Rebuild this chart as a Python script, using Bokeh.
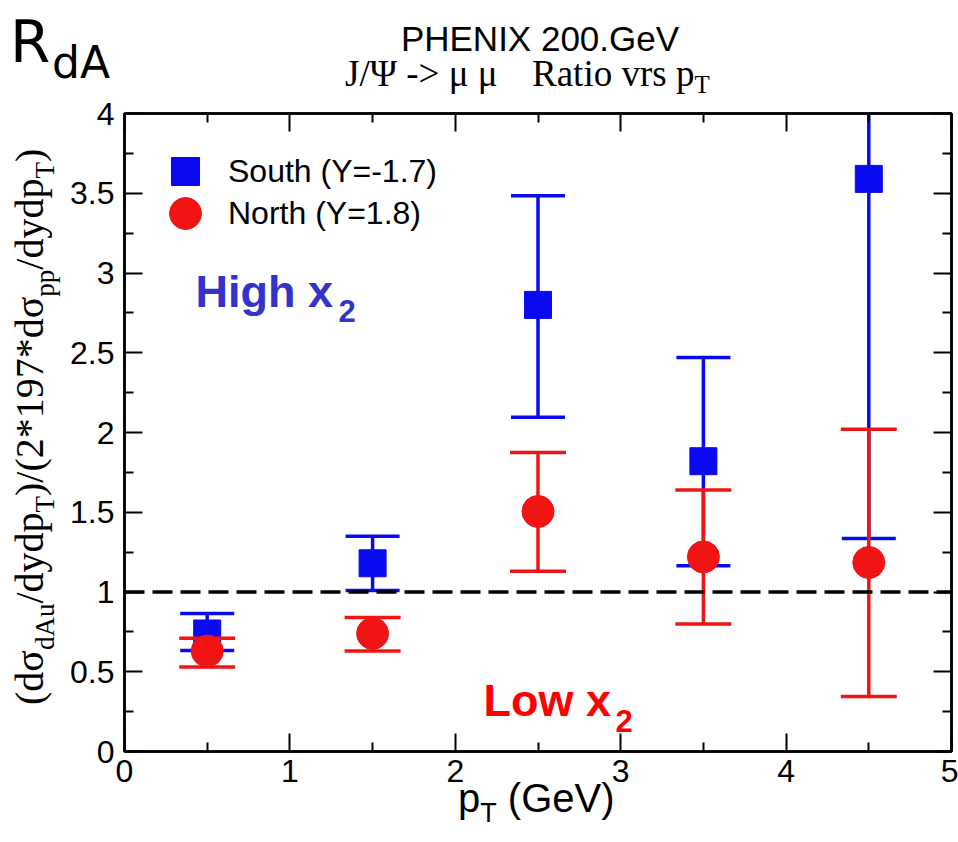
from bokeh.plotting import figure
from bokeh.models import (Range1d, LinearAxis, FixedTicker, Span, Label,
                          Legend, LegendItem, ColumnDataSource, GridBox, Div)
from bokeh.embed import file_html
from bokeh.resources import INLINE

# ---------------- data ----------------
pt = [0.5, 1.5, 2.5, 3.5, 4.5]
south_ratio = [0.74, 1.18, 2.80, 1.82, 3.59]
south_upper = [0.865, 1.35, 3.485, 2.47, 5.85]
south_lower = [0.633, 1.01, 2.095, 1.165, 1.335]
north_ratio = [0.63, 0.74, 1.505, 1.22, 1.185]
north_upper = [0.71, 0.84, 1.875, 1.64, 2.02]
north_lower = [0.53, 0.63, 1.13, 0.80, 0.345]

x_major = [0, 1, 2, 3, 4, 5]
x_minor = [0.5, 1.5, 2.5, 3.5, 4.5]
x_labels = ["0", "1", "2", "3", "4", "5"]
y_major = [0, 0.5, 1, 1.5, 2, 2.5, 3, 3.5, 4]
y_minor = [0.25, 0.75, 1.25, 1.75, 2.25, 2.75, 3.25, 3.75]
y_labels = ["0", "0.5", "1", "1.5", "2", "2.5", "3", "3.5", "4"]

south_name = "South (Y=-1.7)"
north_name = "North (Y=1.8)"

BLUE = "#0A0AF0"
RED = "#F01414"
SANS = "Liberation Sans"
SERIF = "Liberation Serif"

# ---------------- page geometry ----------------
W, H = 958, 842
FL, FR, FT, FB = 124, 951, 113, 751   # page coords of the plot frame
X0, X1, Y0, Y1 = 0, 5, 0, 4

p = figure(width=W, height=H, x_range=Range1d(X0, X1), y_range=Range1d(Y0, Y1),
           output_backend="svg", toolbar_location=None, title=None,
           min_border_left=FL, min_border_right=W - FR,
           min_border_top=FT, min_border_bottom=H - FB)
p.xgrid.visible = False
p.ygrid.visible = False
p.outline_line_color = "black"
p.outline_line_width = 2.5
p.background_fill_color = "white"
p.border_fill_color = "white"


def dx(px):
    return X0 + (px - FL) / (FR - FL) * (X1 - X0)


def dy(py):
    return Y0 + (FB - py) / (FB - FT) * (Y1 - Y0)


xb = p.below[0]
yl = p.left[0]
xt = LinearAxis()
yr = LinearAxis()
p.add_layout(xt, "above")
p.add_layout(yr, "right")

for ax in (xb, xt):
    ax.ticker = FixedTicker(ticks=x_major, minor_ticks=x_minor)
for ax in (yl, yr):
    ax.ticker = FixedTicker(ticks=y_major, minor_ticks=y_minor)
xb.major_label_overrides = dict(zip(x_major, x_labels))
yl.major_label_overrides = dict(zip(y_major, y_labels))

for ax in (xb, xt, yl, yr):
    ax.axis_line_color = "black"
    ax.axis_line_width = 2.5
    ax.major_tick_in = 18
    ax.major_tick_out = 0
    ax.minor_tick_in = 9
    ax.minor_tick_out = 0
    ax.major_tick_line_color = "black"
    ax.minor_tick_line_color = "black"
    ax.major_tick_line_width = 2
    ax.minor_tick_line_width = 2
    ax.axis_label = None
for ax in (xb, yl):
    ax.major_label_text_font = SANS
    ax.major_label_text_font_size = "32px"
    ax.major_label_text_color = "black"
xb.major_label_standoff = 8
yl.major_label_standoff = 10
for ax in (xt, yr):
    ax.major_label_text_font_size = "1px"
    ax.major_label_text_color = None
    ax.major_label_standoff = 0

# reference line
p.add_layout(Span(location=1, dimension="width", line_color="black",
                  line_width=3.5, line_dash="20 8"))

# ---------------- data marks ----------------
s_src = ColumnDataSource(dict(x=pt, y=south_ratio, lo=south_lower, hi=south_upper))
n_src = ColumnDataSource(dict(x=pt, y=north_ratio, lo=north_lower, hi=north_upper))

p.segment("x", "lo", "x", "hi", source=s_src, line_color=BLUE, line_width=3.5)
p.scatter("x", "hi", source=s_src, marker="dash", size=54, line_color=BLUE, line_width=3.5)
p.scatter("x", "lo", source=s_src, marker="dash", size=54, line_color=BLUE, line_width=3.5)
sq = p.scatter("x", "y", source=s_src, marker="square", size=27,
               fill_color=BLUE, line_color=BLUE)

p.segment("x", "lo", "x", "hi", source=n_src, line_color=RED, line_width=3.5)
p.scatter("x", "hi", source=n_src, marker="dash", size=56, line_color=RED, line_width=3.5)
p.scatter("x", "lo", source=n_src, marker="dash", size=56, line_color=RED, line_width=3.5)
ci = p.scatter("x", "y", source=n_src, marker="circle", size=32,
               fill_color=RED, line_color=RED)


# ---------------- legend ----------------
def make_legend(name, rend, loc, box, standoff):
    return Legend(items=[LegendItem(label=name, renderers=[rend])], location=loc,
                  glyph_width=box, glyph_height=box, label_standoff=standoff,
                  padding=0, margin=0, spacing=0, border_line_alpha=0,
                  background_fill_alpha=0, label_text_font=SANS,
                  label_text_font_size="32px", label_text_color="black")


p.add_layout(make_legend(south_name, sq, (26, FB - 206), 70, 8))
p.add_layout(make_legend(north_name, ci, (21, FB - 253), 80, 3))

# ---------------- texts inside the frame ----------------
MID = 0.345   # distance from text middle to its baseline, in ems


def put_in(txt, px, base_py, size, color, style="bold"):
    p.add_layout(Label(x=dx(px), y=dy(base_py - MID * size), text=txt,
                       text_font=SANS, text_font_size=f"{size}px",
                       text_color=color, text_font_style=style,
                       text_align="left", text_baseline="middle"))


put_in("High x", 195, 307, 45, "#3333CC")
put_in("2", 338, 321, 31, "#3333CC")
put_in("Low x", 483, 716, 45, "#FF0000")
put_in("2", 615, 731, 31, "#FF0000")

# ---------------- texts outside the frame (HTML overlay) ----------------
ASC = 0.845   # baseline below the top of a line-height:1 box, in ems


def sub(t, size, drop):
    return (f"<span style=\"font-size:{size}px;vertical-align:-{drop}px\">{t}</span>")


def span(html, left, base, size, font, extra=""):
    top = base - ASC * size
    return (f"<span style=\"position:absolute;left:{left}px;top:{top:.1f}px;"
            f"font-family:'{font}';font-size:{size}px;line-height:1;"
            f"white-space:nowrap;color:black;{extra}\">{html}</span>")


parts = [
    span("R", 10, 62, 58, "DejaVu Sans"),
    span("dA", 52, 78, 44, "DejaVu Sans"),
    (f"<div style=\"position:absolute;left:0px;width:1080px;top:{51 - ASC * 35:.1f}px;"
     f"text-align:center;font-family:'{SANS}';font-size:35px;line-height:1;"
     f"white-space:nowrap;color:black\">PHENIX 200.GeV</div>"),
    span("J/Ψ -&gt; μ μ", 345, 86, 37, SERIF),
    span("Ratio vrs p" + sub("T", 25, 7), 532, 86, 37, SERIF),
    span("p" + sub("T", 27, 10) + " (GeV)", 458, 812, 40, SANS),
]
ylab = ("(dσ" + sub("dAu", 27, 11) + "/dydp" + sub("T", 27, 11) + ")/(2*197*dσ"
        + sub("pp", 27, 11) + "/dydp" + sub("T", 27, 11) + ")")
ysize = 40
parts.append(
    f"<span style=\"position:absolute;left:{44 - ASC * ysize:.1f}px;top:705px;"
    f"font-family:'{SERIF}';font-size:{ysize}px;line-height:1;white-space:nowrap;"
    f"color:black;transform-origin:0 0;transform:rotate(-90deg)\">{ylab}</span>")

overlay = Div(text=(f"<div style=\"position:relative;width:{W}px;height:{H}px;"
                    f"pointer-events:none\">" + "".join(parts) + "</div>"),
              width=W, height=H, margin=0)

page = GridBox(children=[(p, 0, 0), (overlay, 0, 0)])
open("out.html", "w").write(file_html(page, INLINE))
